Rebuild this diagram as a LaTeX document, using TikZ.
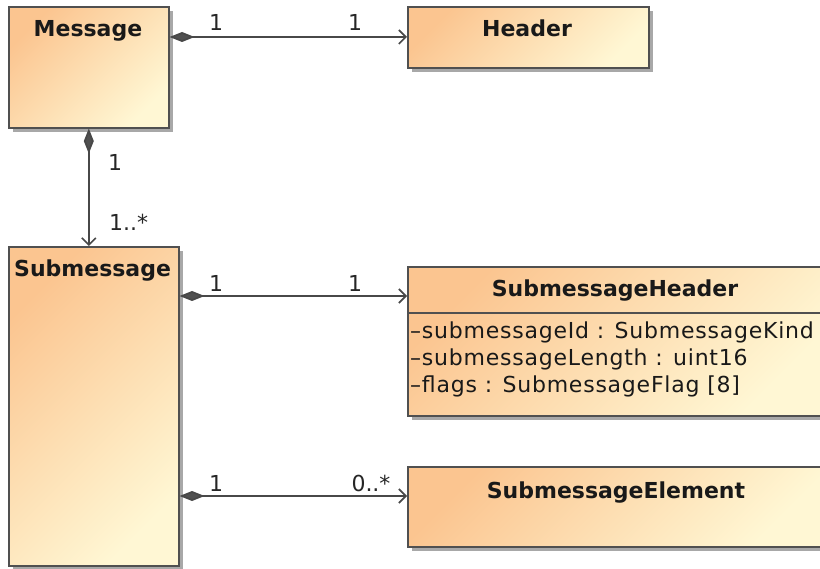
\documentclass[tikz,border=0pt]{standalone}
\usepackage{fontspec}
\setmainfont{DejaVu Sans}
\newfontfamily\attrfont[LetterSpace=3.5]{DejaVu Sans}
\usetikzlibrary{arrows.meta,shadows,calc}
\definecolor{umlA}{HTML}{FBC590}
\definecolor{umlB}{HTML}{FFF7D4}
\definecolor{umlLine}{HTML}{505050}
\definecolor{umlShadow}{HTML}{A8A8A8}
\begin{document}
\begin{tikzpicture}[x=1pt,y=-1pt,
  umlbox/.style={draw=umlLine, line width=1.6pt, inner sep=0pt, anchor=north west,
    top color=umlA, bottom color=umlB, shading angle=45,
    drop shadow={shadow xshift=4pt, shadow yshift=-4pt, fill=umlShadow, opacity=1}},
  titletext/.style={font=\bfseries\fontsize{22}{26}\selectfont, text=black!90, inner sep=0pt},
  attrtext/.style={font=\attrfont\fontsize{22}{26}\selectfont, text=black!90, inner sep=0pt, anchor=base west},
  multtext/.style={font=\fontsize{22}{26}\selectfont, text=black!85, inner sep=0pt},
  assoc/.style={draw=umlLine!90!black, line width=1.8pt,
    {Diamond[length=25pt,width=10pt,fill=umlLine]}-{Straight Barb[length=7pt,width=14pt,line width=1.6pt]}}
]
\useasboundingbox (0,0) rectangle (820,569);
\clip (0,0) rectangle (820,569);

% boxes
\node[umlbox, minimum width=160pt, minimum height=121pt] (msg) at (8,6) {};
\node[umlbox, minimum width=241pt, minimum height=61pt] (hdr) at (407,6) {};
\node[umlbox, minimum width=170pt, minimum height=319pt] (smsg) at (8,246) {};
\node[umlbox, minimum width=417pt, minimum height=149pt] (shdr) at (407,266) {};
\node[umlbox, minimum width=417pt, minimum height=80pt] (sel) at (407,466) {};
\draw[umlLine, line width=1.6pt] ($(shdr.north west)+(0,47)$) -- ($(shdr.north east)+(0,47)$);

% titles
\node[titletext, anchor=base] (msgT) at (88,37) {Message};
\node[titletext, anchor=base] (hdrT) at (527,37) {Header};
\node[titletext, anchor=base west] (smsgT) at (14,277) {Submessage};
\node[titletext, anchor=base] (shdrT) at (615,297) {SubmessageHeader};
\node[titletext, anchor=base] (selT) at (616,498) {SubmessageElement};

% attributes
\node[attrtext] (a1) at (410,339) {–submessageId : SubmessageKind};
\node[attrtext] (a2) at (410,366) {–submessageLength : uint16};
\node[attrtext] (a3) at (410,393) {–flags : SubmessageFlag [8]};

% connector anchors
\coordinate (hdrIn) at ($(hdr.north west)+(0,31)$);
\coordinate (shdrIn) at ($(shdr.north west)+(0,30)$);
\coordinate (selIn) at ($(sel.north west)+(0,30)$);

% connectors
\draw[assoc] (msg.east |- hdrIn) -- (hdrIn);
\draw[assoc] (msg.south) -- (msg.south |- smsg.north);
\draw[assoc] (smsg.east |- shdrIn) -- (shdrIn);
\draw[assoc] (smsg.east |- selIn) -- (selIn);

% multiplicities
\node[multtext] (m1) at (216,22) {1};
\node[multtext] (m2) at (355,22) {1};
\node[multtext] (m3) at (115,162) {1};
\node[multtext, anchor=west] (m4) at (109,222) {1..*};
\node[multtext] (m5) at (216,283) {1};
\node[multtext] (m6) at (355,283) {1};
\node[multtext] (m7) at (216,483) {1};
\node[multtext] (m8) at (371,483) {0..*};
\end{tikzpicture}
\end{document}
